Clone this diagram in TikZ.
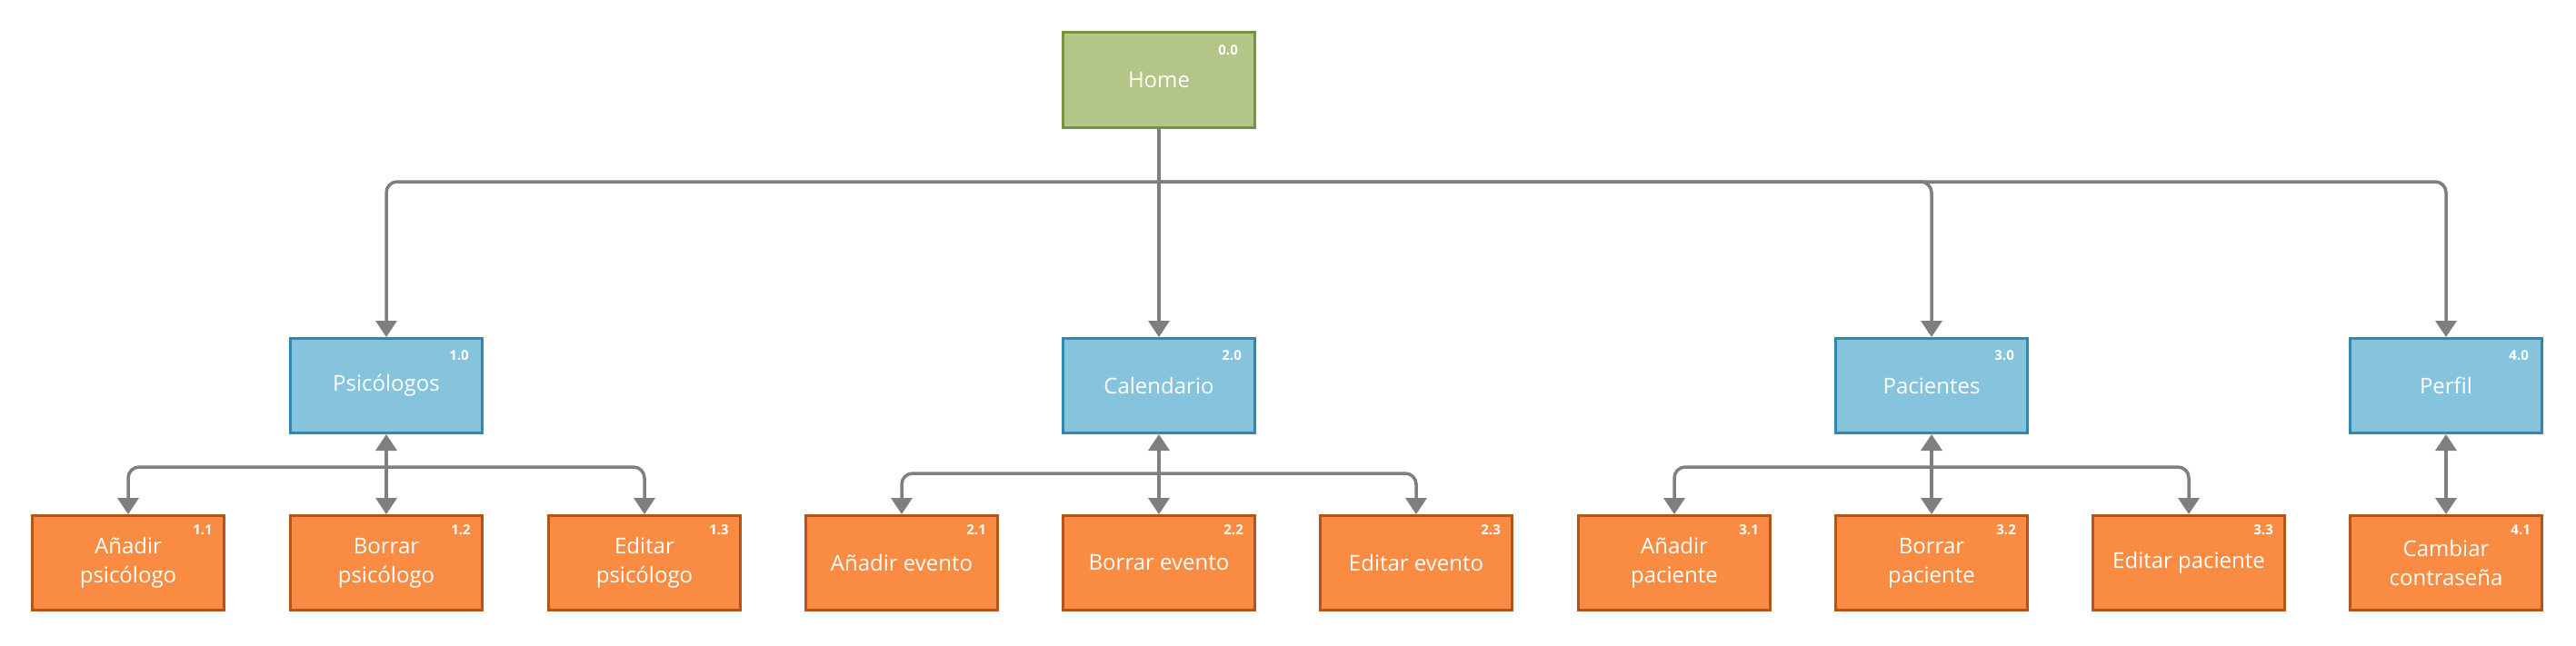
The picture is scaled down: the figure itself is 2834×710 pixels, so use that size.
\documentclass[tikz,border=0pt]{standalone}
\usepackage{fontspec}
\setmainfont{Open Sans}
\usetikzlibrary{arrows.meta}
\definecolor{homefill}{HTML}{B3C587}
\definecolor{homedraw}{HTML}{77933C}
\definecolor{bluefill}{HTML}{86C3DC}
\definecolor{bluedraw}{HTML}{2E89AF}
\definecolor{orfill}{HTML}{F98B43}
\definecolor{ordraw}{HTML}{B5531B}
\definecolor{conncol}{HTML}{7F7F7F}
\tikzset{
  box/.style={draw, line width=3pt, minimum width=211pt, minimum height=104pt, inner sep=0pt,
    text=white, align=center, font=\fontsize{24}{32}\selectfont},
  homebox/.style={box, fill=homefill, draw=homedraw, minimum height=105pt},
  bluebox/.style={box, fill=bluefill, draw=bluedraw},
  orbox/.style={box, fill=orfill, draw=ordraw},
  num/.style={text=white, inner sep=0pt, anchor=east, font=\fontsize{15}{18}\selectfont\bfseries},
  conn/.style={draw=conncol, line width=3.5pt},
  tip/.style={-{Triangle[width=23pt,length=18pt]}},
  tips/.style={{Triangle[width=23pt,length=18pt]}-{Triangle[width=23pt,length=18pt]}},
  rc/.style={rounded corners=12pt}
}
\begin{document}
\begin{tikzpicture}[x=1pt,y=-1pt]
\path[use as bounding box, fill=white] (0,0) rectangle (2834,710);
% nodes
\node[homebox] (home) at (1275,88) {Home};
\node[bluebox] (n1) at (425,424.5) {Psicólogos};
\node[bluebox] (n2) at (1275,424.5) {Calendario};
\node[bluebox] (n3) at (2125,424.5) {Pacientes};
\node[bluebox] (n4) at (2691,424.5) {Perfil};
\node[orbox] (n11) at (141,619.5) {Añadir\\psicólogo};
\node[orbox] (n12) at (425,619.5) {Borrar\\psicólogo};
\node[orbox] (n13) at (709,619.5) {Editar\\psicólogo};
\node[orbox] (n21) at (992,619.5) {Añadir evento};
\node[orbox] (n22) at (1275,619.5) {Borrar evento};
\node[orbox] (n23) at (1558,619.5) {Editar evento};
\node[orbox] (n31) at (1842,619.5) {Añadir\\paciente};
\node[orbox] (n32) at (2125,619.5) {Borrar\\paciente};
\node[orbox] (n33) at (2408,619.5) {Editar paciente};
\node[orbox] (n41) at (2691,619.5) {Cambiar\\contraseña};
% number labels
\node[num] (l00) at ([xshift=-20pt,yshift=-21pt]home.north east) {0.0};
\node[num] (l10) at ([xshift=-16pt,yshift=-20pt]n1.north east) {1.0};
\node[num] (l20) at ([xshift=-16pt,yshift=-20pt]n2.north east) {2.0};
\node[num] (l30) at ([xshift=-16pt,yshift=-20pt]n3.north east) {3.0};
\node[num] (l40) at ([xshift=-16pt,yshift=-20pt]n4.north east) {4.0};
\node[num] (l11) at ([xshift=-14pt,yshift=-17pt]n11.north east) {1.1};
\node[num] (l12) at ([xshift=-14pt,yshift=-17pt]n12.north east) {1.2};
\node[num] (l13) at ([xshift=-14pt,yshift=-17pt]n13.north east) {1.3};
\node[num] (l21) at ([xshift=-14pt,yshift=-17pt]n21.north east) {2.1};
\node[num] (l22) at ([xshift=-14pt,yshift=-17pt]n22.north east) {2.2};
\node[num] (l23) at ([xshift=-14pt,yshift=-17pt]n23.north east) {2.3};
\node[num] (l31) at ([xshift=-14pt,yshift=-17pt]n31.north east) {3.1};
\node[num] (l32) at ([xshift=-14pt,yshift=-17pt]n32.north east) {3.2};
\node[num] (l33) at ([xshift=-14pt,yshift=-17pt]n33.north east) {3.3};
\node[num] (l41) at ([xshift=-14pt,yshift=-17pt]n41.north east) {4.1};
% junctions
\coordinate (j0) at (1275,200);
\coordinate (j1) at (425,514);
\coordinate (j2) at (1275,521);
\coordinate (j3) at (2125,514);
% top level connectors
\draw[conn,tip] (home.south) -- (n2.north);
\draw[conn,tip,rc] (j0) -| (n1.north);
\draw[conn,tip,rc] (j0) -| (n3.north);
\draw[conn,tip,rc] (j0) -| (n4.north);
% group 1
\draw[conn,tips] (n1.south) -- (n12.north);
\draw[conn,tip,rc] (j1) -| (n11.north);
\draw[conn,tip,rc] (j1) -| (n13.north);
% group 2
\draw[conn,tips] (n2.south) -- (n22.north);
\draw[conn,tip,rc] (j2) -| (n21.north);
\draw[conn,tip,rc] (j2) -| (n23.north);
% group 3
\draw[conn,tips] (n3.south) -- (n32.north);
\draw[conn,tip,rc] (j3) -| (n31.north);
\draw[conn,tip,rc] (j3) -| (n33.north);
% group 4
\draw[conn,tips] (n4.south) -- (n41.north);
\end{tikzpicture}
\end{document}
